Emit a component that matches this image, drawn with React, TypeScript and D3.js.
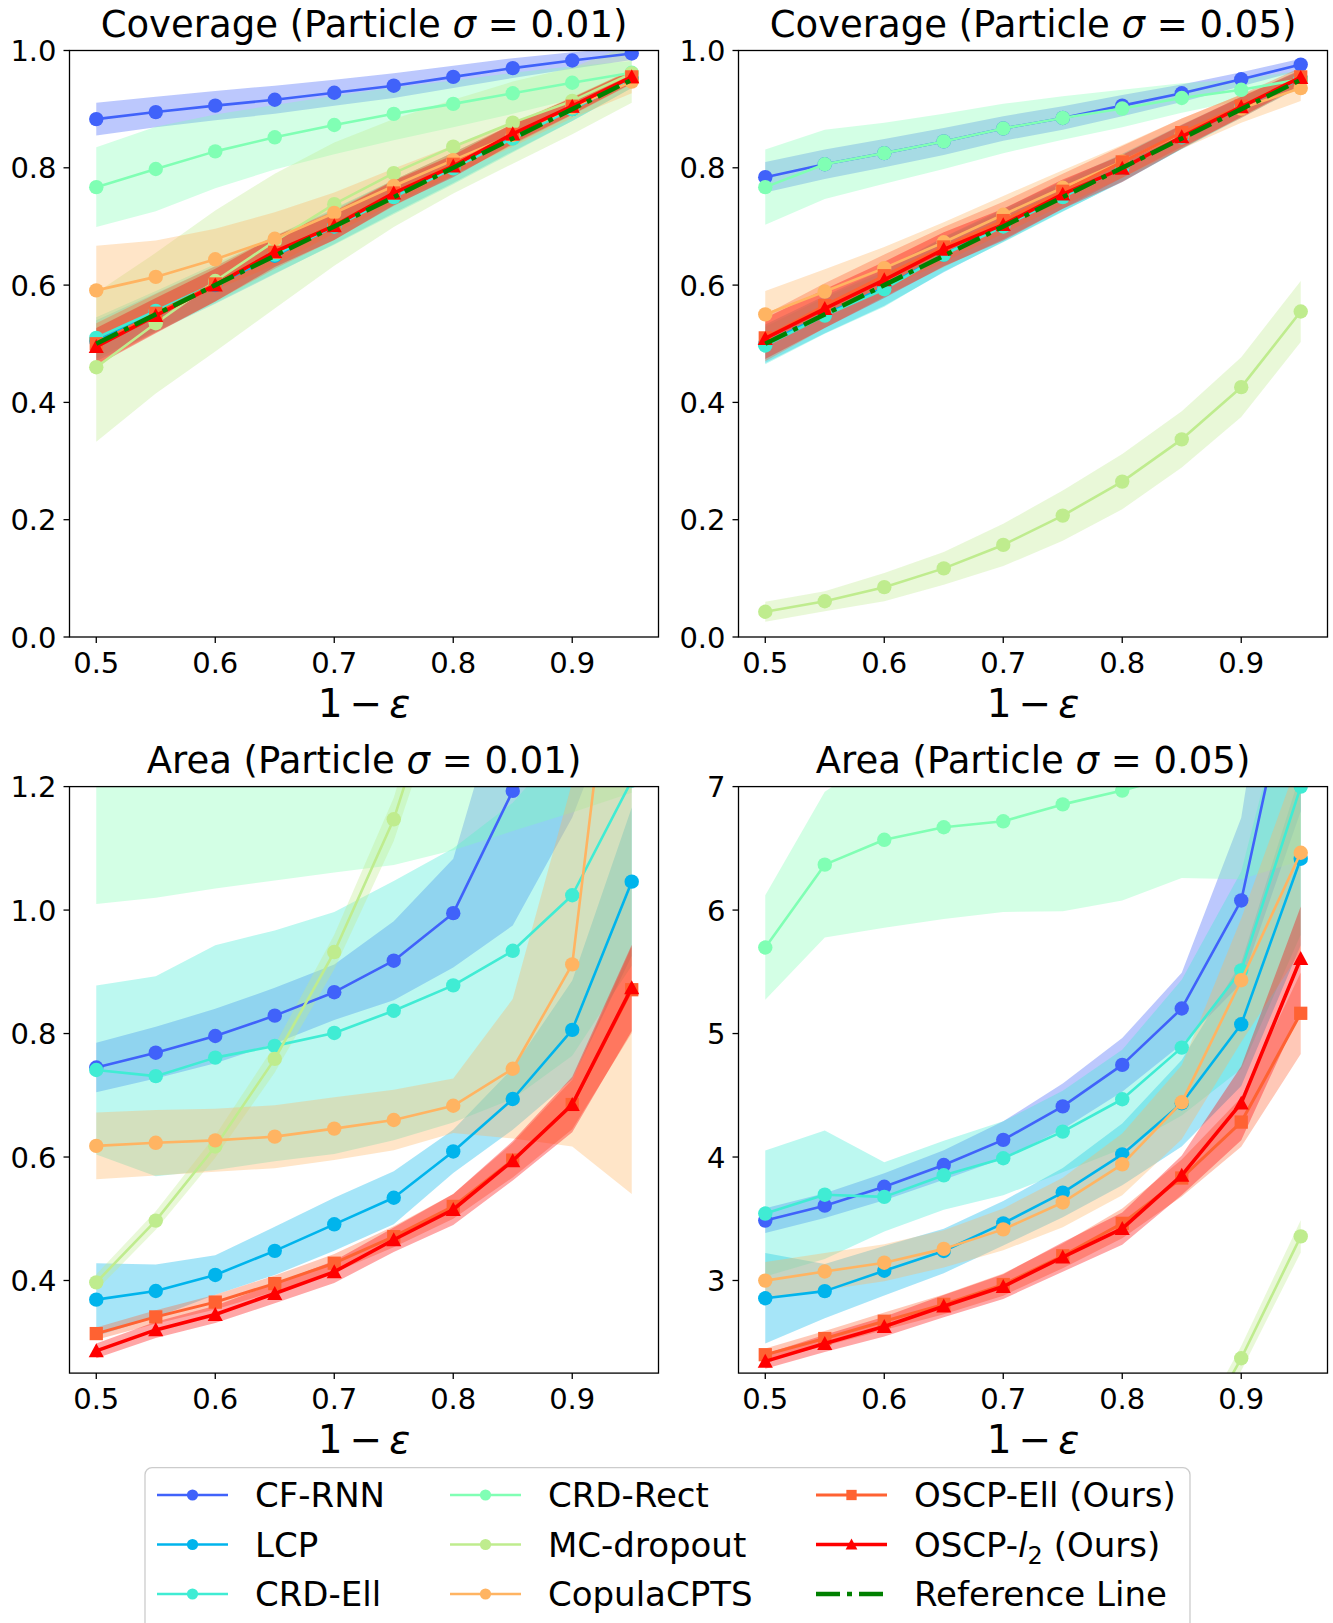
import React from 'react';
import * as d3 from 'd3';

// ---------------- data ----------------
const xs = [0.5, 0.55, 0.6, 0.65, 0.7, 0.75, 0.8, 0.85, 0.9, 0.95];
const methods = ['CF-RNN', 'LCP', 'CRD-Ell', 'CRD-Rect', 'MC-dropout', 'CopulaCPTS', 'OSCP-Ell (Ours)', 'OSCP-l2 (Ours)'];
const refValues = [0.5, 0.55, 0.6, 0.65, 0.7, 0.75, 0.8, 0.85, 0.9, 0.95];

const xTicks = [0.5, 0.6, 0.7, 0.8, 0.9];
const covTicks = [0, 0.2, 0.4, 0.6, 0.8, 1.0];
const area001Ticks = [0.4, 0.6, 0.8, 1.0, 1.2];
const area005Ticks = [3, 4, 5, 6, 7];

// Coverage, sigma = 0.01 (rows follow `methods`)
const cov001Mean = [
  [0.883, 0.895, 0.906, 0.916, 0.928, 0.940, 0.955, 0.970, 0.983, 0.995],
  [0.505, 0.553, 0.600, 0.650, 0.700, 0.751, 0.800, 0.851, 0.900, 0.951],
  [0.510, 0.556, 0.603, 0.652, 0.700, 0.750, 0.799, 0.850, 0.900, 0.952],
  [0.767, 0.798, 0.828, 0.852, 0.873, 0.892, 0.909, 0.927, 0.945, 0.962],
  [0.460, 0.535, 0.607, 0.675, 0.738, 0.791, 0.836, 0.877, 0.914, 0.961],
  [0.591, 0.614, 0.644, 0.679, 0.723, 0.769, 0.813, 0.856, 0.903, 0.947],
  [0.500, 0.552, 0.602, 0.656, 0.702, 0.757, 0.806, 0.857, 0.905, 0.955],
  [0.495, 0.548, 0.600, 0.657, 0.701, 0.757, 0.803, 0.858, 0.905, 0.955],
];
const cov001Std = [
  [0.028, 0.026, 0.025, 0.024, 0.022, 0.021, 0.019, 0.017, 0.014, 0.011],
  [0.035, 0.033, 0.032, 0.031, 0.030, 0.028, 0.026, 0.023, 0.020, 0.015],
  [0.035, 0.034, 0.033, 0.032, 0.031, 0.029, 0.027, 0.024, 0.020, 0.016],
  [0.068, 0.072, 0.063, 0.055, 0.050, 0.045, 0.040, 0.035, 0.028, 0.020],
  [0.127, 0.120, 0.120, 0.115, 0.105, 0.092, 0.080, 0.070, 0.057, 0.050],
  [0.076, 0.062, 0.052, 0.045, 0.035, 0.030, 0.025, 0.020, 0.018, 0.020],
  [0.035, 0.033, 0.030, 0.028, 0.025, 0.022, 0.020, 0.018, 0.015, 0.012],
  [0.032, 0.030, 0.028, 0.026, 0.024, 0.021, 0.019, 0.017, 0.014, 0.011],
];

// Coverage, sigma = 0.05
const cov005Mean = [
  [0.784, 0.806, 0.825, 0.845, 0.867, 0.885, 0.906, 0.927, 0.951, 0.976],
  [0.500, 0.550, 0.596, 0.652, 0.702, 0.752, 0.800, 0.853, 0.903, 0.952],
  [0.497, 0.548, 0.593, 0.652, 0.700, 0.750, 0.800, 0.852, 0.903, 0.952],
  [0.767, 0.806, 0.825, 0.845, 0.867, 0.885, 0.901, 0.919, 0.933, 0.951],
  [0.043, 0.061, 0.085, 0.117, 0.157, 0.207, 0.265, 0.337, 0.426, 0.555],
  [0.550, 0.589, 0.629, 0.673, 0.720, 0.766, 0.811, 0.858, 0.901, 0.936],
  [0.510, 0.565, 0.616, 0.665, 0.710, 0.760, 0.810, 0.860, 0.905, 0.955],
  [0.509, 0.560, 0.609, 0.661, 0.703, 0.755, 0.799, 0.853, 0.904, 0.954],
];
const cov005Std = [
  [0.026, 0.025, 0.024, 0.023, 0.021, 0.020, 0.018, 0.015, 0.012, 0.010],
  [0.033, 0.032, 0.031, 0.030, 0.028, 0.026, 0.024, 0.021, 0.018, 0.014],
  [0.032, 0.031, 0.030, 0.029, 0.027, 0.025, 0.023, 0.020, 0.017, 0.013],
  [0.064, 0.059, 0.052, 0.047, 0.042, 0.037, 0.032, 0.025, 0.018, 0.015],
  [0.017, 0.017, 0.024, 0.028, 0.036, 0.043, 0.047, 0.048, 0.051, 0.052],
  [0.040, 0.038, 0.036, 0.034, 0.032, 0.030, 0.028, 0.026, 0.024, 0.022],
  [0.040, 0.038, 0.036, 0.034, 0.032, 0.030, 0.027, 0.024, 0.020, 0.016],
  [0.035, 0.033, 0.031, 0.029, 0.027, 0.025, 0.023, 0.020, 0.017, 0.013],
];

// Area, sigma = 0.01
const area001Mean = [
  [0.745, 0.769, 0.796, 0.829, 0.867, 0.918, 0.995, 1.193, 1.65, 2.3],
  [0.369, 0.383, 0.409, 0.448, 0.491, 0.534, 0.609, 0.694, 0.806, 1.046],
  [0.741, 0.731, 0.761, 0.780, 0.801, 0.837, 0.878, 0.934, 1.024, 1.21],
  [1.45, 1.47, 1.49, 1.51, 1.53, 1.56, 1.60, 1.66, 1.75, 1.90],
  [0.397, 0.497, 0.617, 0.759, 0.932, 1.147, 1.45, 1.80, 2.30, 3.00],
  [0.618, 0.623, 0.627, 0.633, 0.646, 0.660, 0.683, 0.743, 0.912, 1.71],
  [0.314, 0.341, 0.365, 0.395, 0.428, 0.471, 0.520, 0.595, 0.685, 0.871],
  [0.286, 0.320, 0.345, 0.379, 0.414, 0.466, 0.515, 0.594, 0.685, 0.874],
];
const area001Std = [
  [0.040, 0.042, 0.044, 0.045, 0.045, 0.064, 0.088, 0.218, 0.50, 0.90],
  [0.059, 0.043, 0.032, 0.039, 0.043, 0.043, 0.035, 0.050, 0.080, 0.120],
  [0.137, 0.162, 0.182, 0.187, 0.196, 0.210, 0.222, 0.240, 0.260, 0.300],
  [0.44, 0.45, 0.455, 0.462, 0.469, 0.487, 0.503, 0.532, 0.592, 0.71],
  [0.013, 0.015, 0.018, 0.022, 0.028, 0.035, 0.050, 0.060, 0.080, 0.100],
  [0.054, 0.053, 0.051, 0.051, 0.051, 0.049, 0.044, 0.113, 0.295, 1.17],
  [0.010, 0.011, 0.012, 0.013, 0.015, 0.017, 0.020, 0.028, 0.040, 0.070],
  [0.012, 0.013, 0.014, 0.016, 0.018, 0.020, 0.025, 0.032, 0.045, 0.070],
];

// Area, sigma = 0.05
const area005Mean = [
  [3.485, 3.606, 3.759, 3.935, 4.139, 4.41, 4.746, 5.203, 6.078, 8.3],
  [2.856, 2.914, 3.079, 3.239, 3.463, 3.712, 4.021, 4.436, 5.075, 6.416],
  [3.542, 3.695, 3.677, 3.852, 3.99, 4.206, 4.468, 4.886, 5.512, 7.0],
  [5.697, 6.368, 6.569, 6.671, 6.719, 6.856, 6.968, 7.1, 7.3, 7.6],
  [0.2, 0.25, 0.32, 0.4, 0.5, 0.7, 0.95, 1.5, 2.37, 3.357],
  [2.999, 3.073, 3.144, 3.256, 3.414, 3.632, 3.941, 4.443, 5.432, 6.464],
  [2.399, 2.53, 2.67, 2.807, 2.967, 3.2, 3.463, 3.83, 4.283, 5.164],
  [2.345, 2.49, 2.627, 2.792, 2.951, 3.19, 3.42, 3.852, 4.436, 5.608],
];
const area005Std = [
  [0.10, 0.10, 0.11, 0.12, 0.15, 0.186, 0.217, 0.29, 0.67, 1.5],
  [0.367, 0.22, 0.20, 0.18, 0.18, 0.20, 0.25, 0.35, 0.50, 0.70],
  [0.51, 0.52, 0.28, 0.28, 0.30, 0.33, 0.40, 0.55, 0.80, 1.20],
  [0.424, 0.59, 0.712, 0.744, 0.734, 0.865, 0.89, 0.84, 1.05, 1.20],
  [0.05, 0.05, 0.05, 0.05, 0.05, 0.06, 0.07, 0.08, 0.10, 0.13],
  [0.15, 0.15, 0.15, 0.15, 0.17, 0.20, 0.25, 0.30, 0.50, 0.80],
  [0.05, 0.06, 0.07, 0.08, 0.09, 0.10, 0.12, 0.15, 0.20, 0.33],
  [0.06, 0.07, 0.08, 0.09, 0.10, 0.12, 0.13, 0.16, 0.30, 0.42],
];

// ---------------- styles ----------------
const COLORS = ['#4062fa', '#00b4ec', '#40ecd4', '#80ffb4', '#bfec8e', '#ffb462', '#ff6232', '#ff0000'];
const MARKERS = ['circle', 'circle', 'circle', 'circle', 'circle', 'circle', 'square', 'triangle'];
const LINE_W = [2.6, 2.6, 2.6, 2.6, 2.6, 2.6, 3.0, 3.6];
const REF_COLOR = '#008000';
const FONT = 'DejaVu Sans, Verdana, sans-serif';
const FILL_ALPHA = 0.35;

const W = 589;
const H = 586.5;
const LEFTS = [69.5, 738.5];
const TOPS = [50.5, 786.6];
const XDOMAIN = [0.4775, 0.9725];

function Marker({ kind, x, y, size, color }) {
  if (kind === 'circle') return <circle cx={x} cy={y} r={size} fill={color} />;
  if (kind === 'square')
    return <rect x={x - size * 0.92} y={y - size * 0.92} width={size * 1.84} height={size * 1.84} fill={color} />;
  const h = size * 1.05;
  return <path d={`M${x},${y - h}L${x - h},${y + h * 0.85}L${x + h},${y + h * 0.85}Z`} fill={color} />;
}

function Panel({ id, left, top, prefix, sigma, yDomain, yTicks, fmt, mean, std, showRef }) {
  const x = d3.scaleLinear().domain(XDOMAIN).range([left, left + W]);
  const y = d3.scaleLinear().domain(yDomain).range([top + H, top]);
  const area = d3
    .area()
    .x((d) => x(d[0]))
    .y0((d) => y(d[1]))
    .y1((d) => y(d[2]));
  const line = d3
    .line()
    .x((d) => x(d[0]))
    .y((d) => y(d[1]));
  const clipId = `clip-${id}`;
  return (
    <g>
      <defs>
        <clipPath id={clipId}>
          <rect x={left} y={top} width={W} height={H} />
        </clipPath>
      </defs>
      <g clipPath={`url(#${clipId})`}>
        {mean.map((m, i) => (
          <path
            key={`a${i}`}
            d={area(xs.map((xv, j) => [xv, m[j] - std[i][j], m[j] + std[i][j]]))}
            fill={COLORS[i]}
            fillOpacity={FILL_ALPHA}
            stroke="none"
          />
        ))}
        {mean.map((m, i) => (
          <g key={`l${i}`}>
            <path d={line(xs.map((xv, j) => [xv, m[j]]))} fill="none" stroke={COLORS[i]} strokeWidth={LINE_W[i]} strokeLinejoin="round" />
            {xs.map((xv, j) => (
              <Marker key={j} kind={MARKERS[i]} x={x(xv)} y={y(m[j])} size={7.2} color={COLORS[i]} />
            ))}
          </g>
        ))}
        {showRef && (
          <path
            d={line(xs.map((xv, j) => [xv, refValues[j]]))}
            fill="none"
            stroke={REF_COLOR}
            strokeWidth={4.6}
            strokeDasharray="24 7 5 7"
          />
        )}
      </g>
      <rect x={left} y={top} width={W} height={H} fill="none" stroke="#000" strokeWidth={1.3} />
      {xTicks.map((t) => (
        <g key={`xt${t}`}>
          <line x1={x(t)} x2={x(t)} y1={top + H} y2={top + H + 6} stroke="#000" strokeWidth={1.3} />
          <text x={x(t)} y={top + H + 36} textAnchor="middle" fontSize={29} fontFamily={FONT}>
            {t.toFixed(1)}
          </text>
        </g>
      ))}
      {yTicks.map((t) => (
        <g key={`yt${t}`}>
          <line x1={left - 6} x2={left} y1={y(t)} y2={y(t)} stroke="#000" strokeWidth={1.3} />
          <text x={left - 13} y={y(t) + 10.5} textAnchor="end" fontSize={29} fontFamily={FONT}>
            {fmt(t)}
          </text>
        </g>
      ))}
      <text x={left + W / 2} y={top - 13.5} textAnchor="middle" fontSize={37} fontFamily={FONT} style={{ whiteSpace: 'pre' }}>
        {`${prefix} (Particle `}
        <tspan fontStyle="italic">σ</tspan>
        {` = ${sigma})`}
      </text>
      <text x={left + W / 2} y={top + H + 79.7} textAnchor="middle" fontSize={39} fontFamily={FONT}>
        <tspan>1</tspan>
        <tspan dx={7}>−</tspan>
        <tspan dx={7} fontStyle="italic">ε</tspan>
      </text>
    </g>
  );
}

function Legend() {
  const rows = [1495, 1544.5, 1594];
  const cols = [157, 450, 816];
  const hl = 71;
  const items = methods.map((m, i) => ({ label: m, color: COLORS[i], marker: MARKERS[i], lw: LINE_W[i], ref: false }));
  items.push({ label: 'Reference Line', color: REF_COLOR, marker: 'none', lw: 4.6, ref: true });
  return (
    <g>
      <rect x={145} y={1467.7} width={1045} height={200} rx={7} ry={7} fill="#fff" fillOpacity={0.8} stroke="#cccccc" strokeWidth={1.3} />
      {items.map((it, k) => {
        const c = Math.floor(k / 3);
        const r = k % 3;
        const x0 = cols[c];
        const yy = rows[r];
        return (
          <g key={k}>
            <line
              x1={x0}
              x2={x0 + hl}
              y1={yy}
              y2={yy}
              stroke={it.color}
              strokeWidth={it.lw}
              strokeDasharray={it.ref ? '24 7 5 7' : undefined}
            />
            {!it.ref && <Marker kind={it.marker} x={x0 + hl / 2} y={yy} size={5.6} color={it.color} />}
            <text x={x0 + 98} y={yy + 12.4} fontSize={34} fontFamily={FONT} style={{ whiteSpace: 'pre' }}>
              {it.label === 'OSCP-l2 (Ours)' ? (
                <>
                  {'OSCP-'}
                  <tspan fontStyle="italic">l</tspan>
                  <tspan fontSize={24} dy={7}>2</tspan>
                  <tspan dy={-7}>{' (Ours)'}</tspan>
                </>
              ) : (
                it.label
              )}
            </text>
          </g>
        );
      })}
    </g>
  );
}

export default function App() {
  const f1 = (t) => t.toFixed(1);
  const f0 = (t) => String(t);
  return (
    <svg
      width={1333}
      height={1623}
      style={{ position: 'absolute', left: 0, top: 0, background: '#fff' }}
      xmlns="http://www.w3.org/2000/svg"
    >
      <rect x={0} y={0} width={1333} height={1623} fill="#fff" />
      <Panel id="c1" left={LEFTS[0]} top={TOPS[0]} prefix="Coverage" sigma="0.01" yDomain={[0, 1]} yTicks={covTicks} fmt={f1} mean={cov001Mean} std={cov001Std} showRef />
      <Panel id="c5" left={LEFTS[1]} top={TOPS[0]} prefix="Coverage" sigma="0.05" yDomain={[0, 1]} yTicks={covTicks} fmt={f1} mean={cov005Mean} std={cov005Std} showRef />
      <Panel id="a1" left={LEFTS[0]} top={TOPS[1]} prefix="Area" sigma="0.01" yDomain={[0.25, 1.2]} yTicks={area001Ticks} fmt={f1} mean={area001Mean} std={area001Std} showRef={false} />
      <Panel id="a5" left={LEFTS[1]} top={TOPS[1]} prefix="Area" sigma="0.05" yDomain={[2.25, 7]} yTicks={area005Ticks} fmt={f0} mean={area005Mean} std={area005Std} showRef={false} />
      <Legend />
    </svg>
  );
}
